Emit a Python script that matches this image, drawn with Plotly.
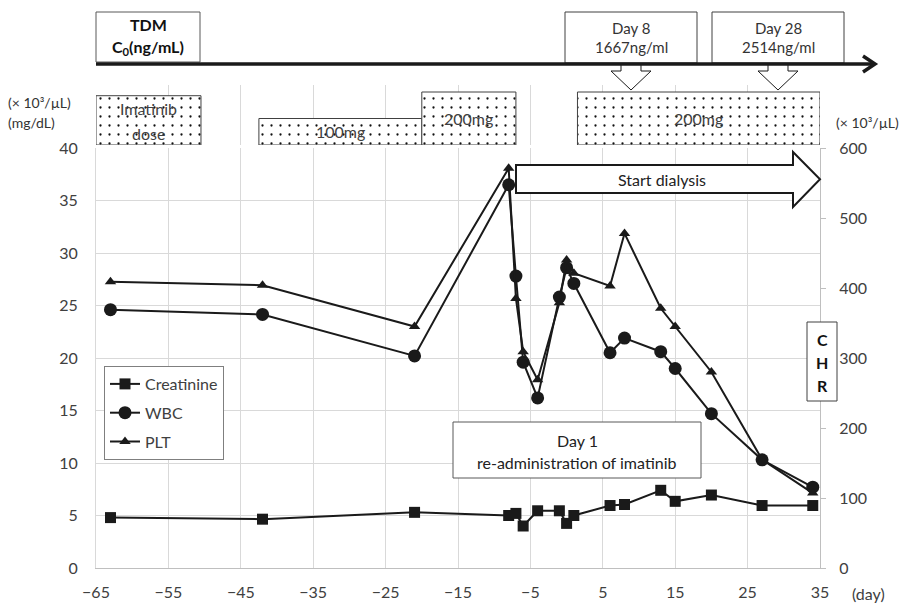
import plotly.graph_objects as go

# ---------------- data ----------------
days = [-63, -42, -21, -8, -7, -6, -4, -1, 0, 1, 6, 8, 13, 15, 20, 27, 34]
creatinine = [4.8, 4.65, 5.3, 5.0, 5.2, 4.0, 5.45, 5.45, 4.25, 5.0, 5.95, 6.05, 7.4, 6.35, 6.95, 5.95, 5.95]
wbc = [24.6, 24.15, 20.2, 36.5, 27.8, 19.6, 16.2, 25.8, 28.6, 27.1, 20.5, 21.9, 20.6, 19.0, 14.7, 10.3, 7.7]
plt_count = [409, 404, 345, 571, 385, 309, 269, 379, 440, 421, 403, 478, 371, 345, 280, 155, 107]

dose_start = [-42.5, -20, 1.5]
dose_end = [-20, -7, 35]
dose_mg = [100, 200, 200]
dose_text = ["100mg", "200mg", "200mg"]

x_ticks = [-65, -55, -45, -35, -25, -15, -5, 5, 15, 25, 35]
left_ticks = [0, 5, 10, 15, 20, 25, 30, 35, 40]
right_ticks = [0, 100, 200, 300, 400, 500, 600]

tdm_day = ["Day 8", "Day 28"]
tdm_conc = ["1667ng/ml", "2514ng/ml"]

# ---------------- geometry helpers (pixel -> paper) ----------------
W, H = 904, 604
ML, MR, MT, MB = 96, 84, 10, 36
PW = W - ML - MR
PH = H - MT - MB
BOTTOM = H - MB


def X(px):
    return (px - ML) / PW


def Y(py):
    return (BOTTOM - py) / PH


def poly(pts):
    return "M " + " L ".join(f"{X(a):.5f},{Y(b):.5f}" for a, b in pts) + " Z"


FONT = "Lato, 'Open Sans', sans-serif"
INK = "#1a1a1a"
TXT = "#404040"

fig = go.Figure()

pattern = dict(shape=".", fgcolor="#111111", bgcolor="white", size=9, solidity=0.05)

# Imatinib dose label box
fig.add_trace(go.Bar(
    x=[-57.75], y=[186], width=[14.5], base=0, xaxis="x", yaxis="y3",
    marker=dict(color="white", line=dict(color="#404040", width=1), pattern=pattern),
    showlegend=False, hoverinfo="skip"))

# dose bars
fig.add_trace(go.Bar(
    x=[(s + e) / 2 for s, e in zip(dose_start, dose_end)],
    width=[e - s for s, e in zip(dose_start, dose_end)],
    y=dose_mg, base=0, xaxis="x", yaxis="y3",
    marker=dict(color="white", line=dict(color="#404040", width=1), pattern=pattern),
    showlegend=False, hoverinfo="skip"))

fig.add_trace(go.Scatter(
    x=days, y=creatinine, name="Creatinine", mode="lines+markers", legendgroup="a",
    line=dict(color=INK, width=2), marker=dict(symbol="square", size=11, color=INK)))
fig.add_trace(go.Scatter(
    x=days, y=wbc, name="WBC", mode="lines+markers", legendgroup="b",
    line=dict(color=INK, width=2), marker=dict(symbol="circle", size=13, color=INK)))
fig.add_trace(go.Scatter(
    x=days, y=plt_count, name="PLT", mode="lines+markers", yaxis="y2", legendgroup="c",
    line=dict(color=INK, width=2), marker=dict(symbol="triangle-up", size=10, color=INK)))

main_top = Y(148)

shapes = []
# TDM boxes
shapes.append(dict(type="rect", xref="paper", yref="paper", x0=X(96), x1=X(200), y0=Y(62), y1=Y(12),
                   line=dict(color="#595959", width=1), fillcolor="white"))
shapes.append(dict(type="rect", xref="paper", yref="paper", x0=X(565), x1=X(697), y0=Y(63), y1=Y(12),
                   line=dict(color="#404040", width=1), fillcolor="white"))
shapes.append(dict(type="rect", xref="paper", yref="paper", x0=X(712), x1=X(844), y0=Y(63), y1=Y(12),
                   line=dict(color="#404040", width=1), fillcolor="white"))
# down arrows
for cx in [631, 778]:
    shapes.append(dict(type="path", xref="paper", yref="paper",
                       path=poly([(cx - 10, 64), (cx + 10, 64), (cx + 10, 71), (cx + 20, 71),
                                  (cx, 90), (cx - 20, 71), (cx - 10, 71)]),
                       line=dict(color=INK, width=1), fillcolor="white"))
# timeline
shapes.append(dict(type="line", xref="paper", yref="paper", x0=X(96), x1=X(873), y0=Y(64), y1=Y(64),
                   line=dict(color=INK, width=3.5)))
shapes.append(dict(type="path", xref="paper", yref="paper",
                   path="M %.5f,%.5f L %.5f,%.5f L %.5f,%.5f" % (X(863), Y(56), X(875), Y(64), X(863), Y(72)),
                   line=dict(color=INK, width=3.5)))
# Start dialysis arrow
shapes.append(dict(type="path", xref="paper", yref="paper",
                   path=poly([(516, 165), (793, 165), (793, 152), (820, 179.3), (793, 207),
                              (793, 193), (516, 193)]),
                   line=dict(color=INK, width=2), fillcolor="white"))
# Day 1 box
shapes.append(dict(type="rect", xref="paper", yref="paper", x0=X(453), x1=X(701), y0=Y(478), y1=Y(422),
                   line=dict(color="#595959", width=1), fillcolor="white"))
# CHR box
shapes.append(dict(type="rect", xref="paper", yref="paper", x0=X(807), x1=X(837), y0=Y(401), y1=Y(322),
                   line=dict(color="#404040", width=1), fillcolor="white"))

ann = []


def txt(t, px, py, size=16, color=TXT, anchor="center"):
    ann.append(dict(text=t, x=X(px), y=Y(py), xref="paper", yref="paper", showarrow=False,
                    xanchor=anchor, yanchor="middle", font=dict(size=size, color=color, family=FONT)))


txt("<b>TDM</b>", 148, 24, 16, "#111111")
txt("<b>C<sub>0</sub>(ng/mL)</b>", 148, 48, 16, "#111111")
for d, c, cx in zip(tdm_day, tdm_conc, [631, 778]):
    txt(d, cx, 28, 15, "#333333")
    txt(c, cx, 47, 15, "#333333")
txt("Imatinib", 148, 109)
txt("dose", 148, 133)
for s, e, mg, t in zip(dose_start, dose_end, dose_mg, dose_text):
    ann.append(dict(text=t, x=(s + e) / 2, y=mg / 2, xref="x", yref="y3", showarrow=False,
                    font=dict(size=16, color=TXT, family=FONT)))
txt("(× 10³/µL)", 6, 103, 14, "#333333", "left")
txt("(mg/dL)", 6, 123, 14, "#333333", "left")
txt("(× 10³/µL)", 834, 123, 14, "#333333", "left")
txt("Start dialysis", 662, 179, 16, "#222222")
txt("Day 1", 577, 440, 16, "#222222")
txt("re-administration of imatinib", 577, 462, 16, "#222222")
for letter, py in zip(["C", "H", "R"], [340, 362, 385]):
    txt("<b>%s</b>" % letter, 822, py, 16, "#111111")
txt("(day)", 868, 593, 16)

fig.update_layout(
    template="none",
    width=W, height=H,
    margin=dict(l=ML, r=MR, t=MT, b=MB, pad=0),
    paper_bgcolor="white", plot_bgcolor="white",
    font=dict(family=FONT, size=16, color=TXT),
    barmode="overlay",
    showlegend=True,
    legend=dict(x=X(104), y=Y(366), xanchor="left", yanchor="top",
                bordercolor="#7f7f7f", borderwidth=1, bgcolor="white",
                font=dict(size=16, color=TXT), traceorder="grouped", tracegroupgap=5),
    xaxis=dict(range=[-65, 35], tickvals=x_ticks, showgrid=True, gridcolor="#d9d9d9", gridwidth=1,
               showline=True, linecolor="#bfbfbf", linewidth=1, zeroline=False, ticks="",
               ticklabelstandoff=10, tickfont=dict(size=16, color=TXT), anchor="y",
               automargin=False),
    yaxis=dict(domain=[0, main_top], range=[0, 40], tickvals=left_ticks, showgrid=True,
               gridcolor="#d9d9d9", gridwidth=1, showline=True, linecolor="#d9d9d9", linewidth=1,
               zeroline=False, ticks="", ticklabelstandoff=14, tickfont=dict(size=16, color=TXT),
               automargin=False),
    yaxis2=dict(domain=[0, main_top], range=[0, 600], tickvals=right_ticks, overlaying="y",
                side="right", showgrid=False, showline=True, linecolor="#bfbfbf", linewidth=1,
                ticks="outside", ticklen=5, tickcolor="#bfbfbf", zeroline=False,
                ticklabelstandoff=10, tickfont=dict(size=16, color=TXT), anchor="x",
                automargin=False),
    yaxis3=dict(domain=[Y(145), Y(85)], range=[0, 60 / 0.265], anchor="x", visible=False,
                showgrid=False, zeroline=False, automargin=False),
    shapes=shapes,
    annotations=ann,
)

fig.write_html("out.html", config={"displayModeBar": False},
               post_script="document.body.style.margin='0px';document.body.style.overflow='hidden';")
